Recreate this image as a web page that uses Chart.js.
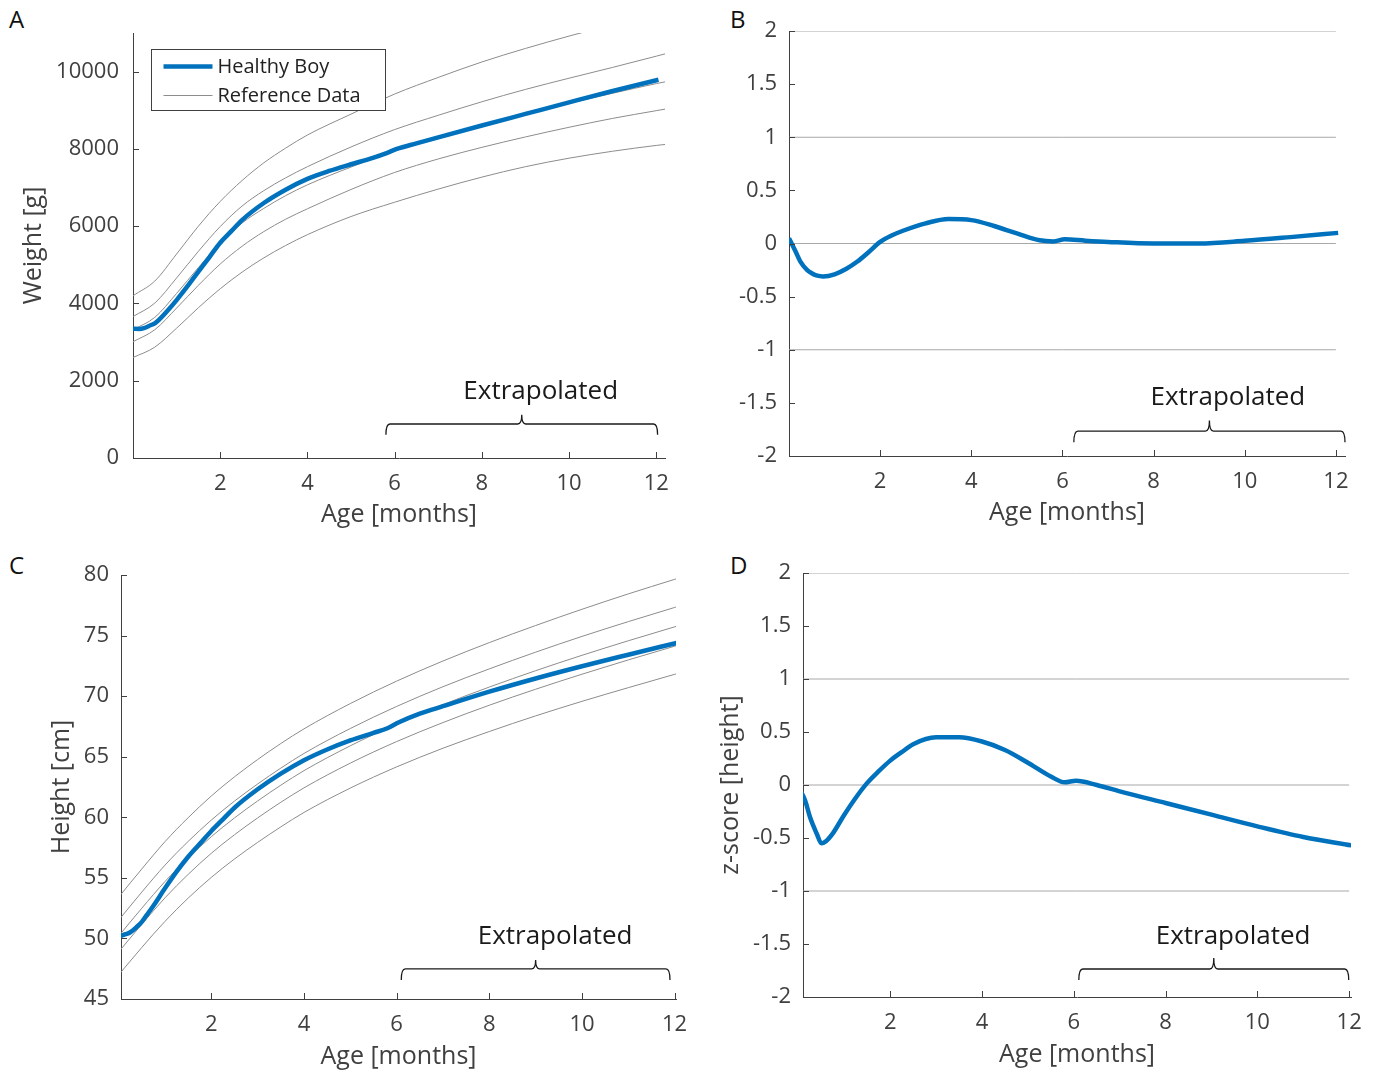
<!DOCTYPE html>
<html>
<head>
<meta charset="utf-8">
<script src="https://cdn.jsdelivr.net/npm/chart.js@4.4.1/dist/chart.umd.min.js"></script>
<style>
  body { margin: 0; background: #fff; width: 1375px; height: 1075px; position: relative; overflow: hidden; }
  canvas { position: absolute; }
  .letter { position: absolute; font-family: 'Open Sans', sans-serif; font-size: 24px; line-height: 24px; color: #111; }
</style>
</head>
<body>
<div class="letter" style="left:9px; top:7px">A</div>
<div class="letter" style="left:730px; top:7px">B</div>
<div class="letter" style="left:9px; top:553px">C</div>
<div class="letter" style="left:730px; top:553px">D</div>

<canvas id="chartA" width="690" height="540" style="left:0; top:0"></canvas>
<canvas id="chartB" width="685" height="540" style="left:690px; top:0"></canvas>
<canvas id="chartC" width="690" height="535" style="left:0; top:540px"></canvas>
<canvas id="chartD" width="685" height="535" style="left:690px; top:540px"></canvas>

<script>
// Age grid of the reference percentile curves (months)
const refAge = [0, 0.5, 1, 1.5, 2, 2.5, 3, 3.5, 4, 5, 6, 7, 8, 9, 10, 11, 12, 12.2];

// Weight reference curves [g]
const weightP5  = [2600, 2870, 3360, 3890, 4380, 4810, 5180, 5500, 5780, 6250, 6620, 6960, 7270, 7540, 7760, 7940, 8090, 8115];
const weightP25 = [3010, 3320, 3880, 4470, 5020, 5480, 5860, 6180, 6450, 6950, 7390, 7740, 8040, 8310, 8560, 8790, 8990, 9030];
const weightP50 = [3320, 3640, 4260, 4930, 5560, 6080, 6460, 6790, 7070, 7530, 7950, 8290, 8600, 8900, 9180, 9440, 9690, 9735];
const weightP75 = [3660, 4010, 4660, 5350, 5990, 6520, 6920, 7250, 7540, 8050, 8500, 8870, 9220, 9540, 9830, 10110, 10400, 10460];
const weightP95 = [4200, 4580, 5280, 6000, 6640, 7180, 7640, 8020, 8360, 8900, 9420, 9850, 10250, 10600, 10920, 11220, 11500, 11560];

// Height reference curves [cm]
const heightP5  = [46.99, 49.26, 51.41, 53.33, 55.04, 56.56, 57.93, 59.21, 60.40, 62.41, 64.16, 65.70, 67.08, 68.37, 69.57, 70.70, 71.80, 72.02];
const heightP25 = [48.89, 51.17, 53.35, 55.29, 57.03, 58.56, 59.95, 61.24, 62.43, 64.47, 66.25, 67.82, 69.25, 70.57, 71.81, 72.99, 74.12, 74.34];
const heightP50 = [50.20, 52.50, 54.70, 56.65, 58.40, 59.95, 61.35, 62.65, 63.85, 65.90, 67.70, 69.30, 70.75, 72.10, 73.37, 74.57, 75.72, 75.95];
const heightP75 = [51.51, 53.83, 56.05, 58.01, 59.77, 61.34, 62.75, 64.06, 65.27, 67.33, 69.15, 70.78, 72.25, 73.63, 74.93, 76.15, 77.32, 77.56];
const heightP95 = [53.41, 55.74, 57.99, 59.97, 61.76, 63.34, 64.77, 66.09, 67.30, 69.39, 71.24, 72.90, 74.42, 75.83, 77.17, 78.44, 79.64, 79.88];

// The boy's fitted growth and z-scores
const ageBoy     = [0, 0.15, 0.25, 0.4, 0.5, 0.6, 0.75, 1, 1.25, 1.5, 1.75, 2, 2.25, 2.5, 3, 3.5, 4, 4.5, 5, 5.5, 5.8, 6.05, 6.5, 7, 8, 9, 10, 11, 12.05];
const boyWeight  = [3345, 3339, 3362, 3435, 3486, 3582, 3760, 4088, 4447, 4824, 5195, 5573, 5865, 6158, 6600, 6945, 7225, 7430, 7603, 7769, 7886, 7998, 8143, 8300, 8605, 8905, 9205, 9500, 9790];
const boyWeightZ = [0.05, -0.08, -0.17, -0.25, -0.28, -0.30, -0.31, -0.29, -0.24, -0.17, -0.08, 0.015, 0.075, 0.12, 0.19, 0.23, 0.22, 0.165, 0.095, 0.03, 0.02, 0.04, 0.027, 0.015, 0.0, 0.0, 0.025, 0.06, 0.1];
const boyHeight  = [50.16, 50.35, 50.51, 50.99, 51.37, 51.9, 52.7, 54.14, 55.51, 56.74, 57.81, 58.87, 59.83, 60.79, 62.31, 63.6, 64.71, 65.6, 66.35, 66.97, 67.35, 67.84, 68.55, 69.17, 70.37, 71.46, 72.47, 73.42, 74.4];
const boyHeightZ = [-0.02, -0.15, -0.30, -0.46, -0.55, -0.53, -0.456, -0.28, -0.12, 0.02, 0.13, 0.23, 0.31, 0.385, 0.45, 0.45, 0.41, 0.33, 0.21, 0.08, 0.025, 0.04, 0.0, -0.06, -0.17, -0.28, -0.39, -0.49, -0.57];

// z-score reference levels and their x extent
const zLevels = [-1, 0, 1, 2];
const zLevelAge = [0, 12];

// Tick values
const ageTicks = [2, 4, 6, 8, 10, 12];
const weightTicks = [0, 2000, 4000, 6000, 8000, 10000];
const heightTicks = [45, 50, 55, 60, 65, 70, 75, 80];
const zTicks = [-2, -1.5, -1, -0.5, 0, 0.5, 1, 1.5, 2];

const FONT = "'Open Sans', sans-serif";
const AXIS_COLOR = '#404040';
const TEXT_COLOR = '#404040';
const BOY_BLUE = '#0072bd';
const REF_GRAY = '#8c8c8c';
const LEVEL_GRAY = '#a8a8a8';

const pts = (xs, ys) => xs.map((x, i) => ({ x: x, y: ys[i] }));

// MATLAB-style ticks pointing into the plot
const inwardTicks = {
  id: 'inwardTicks',
  afterDatasetsDraw(chart) {
    const { ctx, chartArea: a, scales: { x, y } } = chart;
    ctx.save();
    ctx.strokeStyle = AXIS_COLOR;
    ctx.lineWidth = 1;
    ctx.beginPath();
    x.ticks.forEach(t => {
      const px = Math.round(x.getPixelForValue(t.value)) + 0.5;
      ctx.moveTo(px, a.bottom);
      ctx.lineTo(px, a.bottom - 6);
    });
    y.ticks.forEach(t => {
      const py = Math.round(y.getPixelForValue(t.value)) + 0.5;
      ctx.moveTo(a.left, py);
      ctx.lineTo(a.left + 6, py);
    });
    ctx.stroke();
    ctx.restore();
  }
};

// Curly bracket with the "Extrapolated" note, given in data units
const brace = {
  id: 'brace',
  afterDatasetsDraw(chart, args, o) {
    if (o.from === undefined) return;
    const { ctx, scales: { x, y } } = chart;
    const x0 = x.getPixelForValue(o.from), x1 = x.getPixelForValue(o.to);
    const xm = (x0 + x1) / 2;
    const yl = y.getPixelForValue(o.level), ye = y.getPixelForValue(o.end), yt = y.getPixelForValue(o.tip);
    const r = 4;
    ctx.save();
    ctx.strokeStyle = '#1a1a1a';
    ctx.lineWidth = 1.3;
    ctx.beginPath();
    ctx.moveTo(x0, ye);
    ctx.quadraticCurveTo(x0, yl, x0 + r, yl);
    ctx.lineTo(xm - r, yl);
    ctx.quadraticCurveTo(xm, yl, xm, yt);
    ctx.moveTo(xm, yt);
    ctx.quadraticCurveTo(xm, yl, xm + r, yl);
    ctx.lineTo(x1 - r, yl);
    ctx.quadraticCurveTo(x1, yl, x1, ye);
    ctx.stroke();
    ctx.fillStyle = '#1a1a1a';
    ctx.font = '26px ' + FONT;
    ctx.textAlign = 'center';
    ctx.textBaseline = 'middle';
    ctx.fillText(o.label, x.getPixelForValue(o.labelX), y.getPixelForValue(o.labelY));
    ctx.restore();
  }
};

// Boxed legend in the upper left of the plot, built from labelled datasets
const legendBox = {
  id: 'legendBox',
  afterDatasetsDraw(chart, args, o) {
    if (!o.show) return;
    const { ctx, chartArea: a } = chart;
    const items = chart.data.datasets.filter(d => d.label);
    const bx = Math.round(a.left + 18) + 0.5, by = Math.round(a.top + 16) + 0.5;
    const bw = 234, bh = 61;
    ctx.save();
    ctx.fillStyle = '#fff';
    ctx.fillRect(bx, by, bw, bh);
    ctx.strokeStyle = AXIS_COLOR;
    ctx.lineWidth = 1;
    ctx.strokeRect(bx, by, bw, bh);
    ctx.font = '20px ' + FONT;
    ctx.textBaseline = 'middle';
    items.forEach((d, i) => {
      const ly = by + 17 + i * 29;
      ctx.strokeStyle = d.borderColor;
      ctx.lineWidth = d.borderWidth;
      ctx.beginPath();
      ctx.moveTo(bx + 12, ly);
      ctx.lineTo(bx + 61, ly);
      ctx.stroke();
      ctx.fillStyle = '#222';
      ctx.fillText(d.label, bx + 66, ly + 1);
    });
    ctx.restore();
  }
};

function makePanel(id, p) {
  const datasets = [];
  p.refs.forEach((r, i) => datasets.push({
    label: i === 0 ? p.refLabel : undefined,
    data: r,
    borderColor: p.refColor,
    borderWidth: 1,
    pointRadius: 0,
    cubicInterpolationMode: 'monotone',
    order: 2
  }));
  datasets.unshift({
    label: p.boyLabel,
    data: p.boy,
    borderColor: BOY_BLUE,
    borderWidth: 4.5,
    pointRadius: 0,
    cubicInterpolationMode: 'monotone',
    order: 1
  });

  return new Chart(document.getElementById(id), {
    type: 'line',
    data: { datasets: datasets },
    plugins: [inwardTicks, brace, legendBox],
    options: {
      responsive: false,
      animation: false,
      devicePixelRatio: 1,
      layout: { padding: { top: p.padTop, right: p.padRight, left: 0, bottom: 0 } },
      plugins: {
        legend: { display: false },
        tooltip: { enabled: false },
        brace: p.brace,
        legendBox: { show: !!p.legend }
      },
      scales: {
        x: {
          type: 'linear',
          min: p.xMin,
          max: p.xMax,
          afterBuildTicks: s => { s.ticks = ageTicks.map(v => ({ value: v })); },
          // fixed axis height; end labels may overhang the plot edge
          afterFit: s => { s.height = p.xAxisH; s.paddingLeft = 0; s.paddingRight = 0; },
          grid: { display: false, drawTicks: false },
          border: { display: true, color: AXIS_COLOR, width: 1 },
          ticks: { color: TEXT_COLOR, font: { family: FONT, size: 22 }, padding: 13, maxRotation: 0, autoSkip: false, callback: v => String(v) },
          title: { display: true, text: 'Age [months]', color: TEXT_COLOR, font: { family: FONT, size: 25 }, padding: { top: 0, bottom: p.xTitlePad } }
        },
        y: {
          type: 'linear',
          min: p.yMin,
          max: p.yMax,
          afterBuildTicks: s => { s.ticks = p.yTicks.map(v => ({ value: v })); },
          afterFit: s => { s.width = p.yAxisW; s.paddingTop = 0; s.paddingBottom = 0; },
          grid: { display: false, drawTicks: false },
          border: { display: true, color: AXIS_COLOR, width: 1 },
          ticks: { color: TEXT_COLOR, font: { family: FONT, size: 22 }, padding: p.yTickPad, autoSkip: false, callback: v => String(v) },
          title: { display: !!p.yTitle, text: p.yTitle || '', color: TEXT_COLOR, font: { family: FONT, size: 25 }, padding: { top: p.yTitlePad, bottom: 0 } }
        }
      }
    }
  });
}

const levelLines = zLevels.map(l => pts(zLevelAge, zLevelAge.map(() => l)));

// A: weight
makePanel('chartA', {
  boy: pts(ageBoy, boyWeight), boyLabel: 'Healthy Boy',
  refs: [weightP5, weightP25, weightP50, weightP75, weightP95].map(r => pts(refAge, r)),
  refLabel: 'Reference Data', refColor: REF_GRAY, legend: true,
  xMin: 0, xMax: 12.2, yMin: 0, yMax: 11000, yTicks: weightTicks,
  padTop: 33, padRight: 25, yAxisW: 133, xAxisH: 82,
  yTitle: 'Weight [g]', yTitlePad: 19, yTickPad: 14, xTitlePad: 10,
  brace: { from: 5.8, to: 12.03, level: 880, end: 600, tip: 1120, label: 'Extrapolated', labelX: 9.35, labelY: 1720 }
});

// B: weight z-score
makePanel('chartB', {
  boy: pts(ageBoy, boyWeightZ),
  refs: levelLines, refColor: LEVEL_GRAY,
  xMin: 0, xMax: 12.2, yMin: -2, yMax: 2, yTicks: zTicks,
  padTop: 31, padRight: 30, yAxisW: 99, xAxisH: 84,
  yTitle: null, yTitlePad: 0, yTickPad: 12, xTitlePad: 12,
  brace: { from: 6.25, to: 12.2, level: -1.765, end: -1.87, tip: -1.665, label: 'Extrapolated', labelX: 9.63, labelY: -1.45 }
});

// C: height
makePanel('chartC', {
  boy: pts(ageBoy, boyHeight),
  refs: [heightP5, heightP25, heightP50, heightP75, heightP95].map(r => pts(refAge, r)),
  refColor: REF_GRAY,
  xMin: 0.05, xMax: 12.03, yMin: 45, yMax: 80, yTicks: heightTicks,
  padTop: 35, padRight: 14, yAxisW: 121, xAxisH: 76,
  yTitle: 'Height [cm]', yTitlePad: 47, yTickPad: 12, xTitlePad: 3,
  brace: { from: 6.1, to: 11.9, level: 47.48, end: 46.57, tip: 48.22, label: 'Extrapolated', labelX: 9.42, labelY: 50.12 }
});

// D: height z-score
makePanel('chartD', {
  boy: pts(ageBoy, boyHeightZ),
  refs: levelLines, refColor: LEVEL_GRAY,
  xMin: 0.1, xMax: 12.04, yMin: -2, yMax: 2, yTicks: zTicks,
  padTop: 33, padRight: 24, yAxisW: 113, xAxisH: 78,
  yTitle: 'z-score [height]', yTitlePad: 26, yTickPad: 12, xTitlePad: 5,
  brace: { from: 6.11, to: 11.99, level: -1.736, end: -1.84, tip: -1.632, label: 'Extrapolated', labelX: 9.47, labelY: -1.434 }
});
</script>
</body>
</html>
